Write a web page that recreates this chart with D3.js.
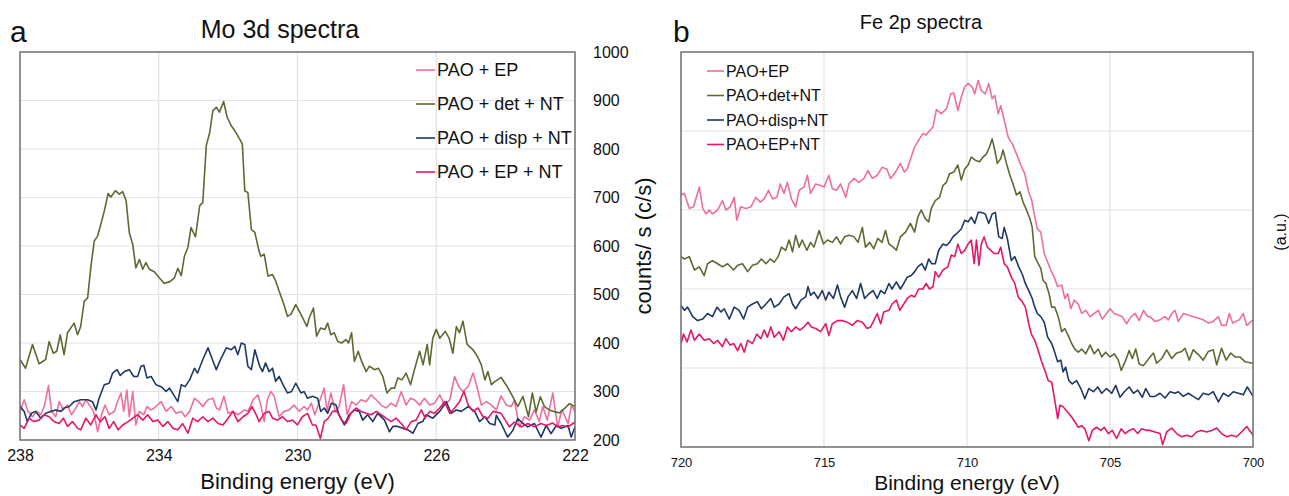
<!DOCTYPE html>
<html>
<head>
<meta charset="utf-8">
<script src="https://cdn.jsdelivr.net/npm/d3@7"></script>
<style>
  body { margin: 0; background: #fff; }
  svg { font-family: "Liberation Sans", Arial, sans-serif; }
</style>
</head>
<body>
<div id="chart"></div>
<script>
// ---- data ----
const moLabels = ["PAO + EP", "PAO + det + NT", "PAO + disp + NT", "PAO + EP + NT"];
const feLabels = ["PAO+EP", "PAO+det+NT", "PAO+disp+NT", "PAO+EP+NT"];
const seriesColors = ["#ef6f9c", "#5a6b32", "#1f3864", "#e4176a"];

const moEnergyTicks = [238, 234, 230, 226, 222];
const moCountTicks = [200, 300, 400, 500, 600, 700, 800, 900, 1000];
const feEnergyTicks = [720, 715, 710, 705, 700];
const feGridLevels = [1, 2, 3, 4];

// Mo 3d, [binding energy eV, counts/s]
const moPaoEp = [[238.00,259],[237.88,283],[237.77,259],[237.64,248],[237.52,259],[237.40,252],[237.29,272],[237.18,312],[237.09,259],[236.97,248],[236.87,279],[236.75,262],[236.63,272],[236.52,252],[236.39,266],[236.29,279],[236.20,269],[236.10,283],[236.00,272],[235.88,259],[235.76,217],[235.65,252],[235.55,272],[235.43,252],[235.28,259],[235.19,279],[235.09,297],[235.01,259],[234.92,303],[234.85,248],[234.75,300],[234.66,231],[234.56,259],[234.43,252],[234.34,269],[234.22,262],[234.13,266],[233.93,279],[233.79,259],[233.64,269],[233.50,255],[233.35,259],[233.24,248],[233.11,259],[232.97,286],[232.85,279],[232.73,269],[232.58,283],[232.44,286],[232.34,266],[232.25,262],[232.12,290],[232.00,255],[231.86,259],[231.72,252],[231.52,262],[231.43,259],[231.28,283],[231.14,293],
  [231.06,272],[230.96,238],[230.87,283],[230.77,300],[230.67,290],[230.53,248],[230.39,259],[230.24,262],[230.10,272],[229.95,259],[229.81,269],[229.71,262],[229.60,276],[229.50,252],[229.37,279],[229.23,307],[229.15,259],[229.04,297],[228.91,259],[228.80,269],[228.67,314],[228.57,252],[228.44,279],[228.31,272],[228.17,283],[228.02,279],[227.88,293],[227.73,283],[227.59,272],[227.45,266],[227.30,276],[227.16,269],[227.01,300],[226.87,272],[226.74,286],[226.63,283],[226.48,272],[226.34,286],[226.19,272],[226.05,276],[225.90,293],[225.76,272],[225.61,283],[225.47,331],[225.35,310],[225.23,300],[225.08,310],[224.94,338],[224.84,314],[224.70,272],[224.55,279],[224.41,272],
  [224.27,262],[224.13,291],[223.98,272],[223.84,269],[223.75,282],[223.60,227],[223.46,248],[223.31,241],[223.17,262],[223.03,238],[222.93,269],[222.80,241],[222.64,297],[222.50,227],[222.38,262],[222.20,234],[222.10,272],[222.00,258]];

const moPaoDetNt = [[238.00,366],[237.84,348],[237.64,397],[237.45,357],[237.26,366],[237.16,403],[237.04,379],[236.94,383],[236.84,417],[236.73,376],[236.63,421],[236.44,441],[236.34,417],[236.25,434],[236.15,486],[236.05,493],[235.96,555],[235.86,610],[235.76,621],[235.67,645],[235.57,672],[235.46,708],[235.38,701],[235.25,714],[235.14,707],[235.04,712],[234.94,693],[234.85,628],[234.75,603],[234.66,555],[234.56,572],[234.46,552],[234.37,566],[234.27,552],[234.13,547],[233.98,534],[233.84,523],[233.69,526],[233.55,534],[233.45,554],[233.35,539],[233.26,579],[233.16,597],[233.07,638],[232.94,619],[232.82,683],[232.73,690],[232.63,807],[232.53,834],[232.44,879],[232.34,886],[232.25,876],[232.13,898],[232.03,866],[231.91,848],[231.81,838],[231.67,821],[231.59,810],[231.52,714],[231.43,710],[231.33,634],[231.23,628],
  [231.11,590],[231.06,579],[230.96,583],[230.85,538],[230.72,541],[230.63,528],[230.53,507],[230.39,479],[230.29,455],[230.19,459],[230.05,479],[229.90,459],[229.73,434],[229.66,452],[229.54,472],[229.45,414],[229.33,431],[229.21,428],[229.13,441],[229.04,417],[228.94,421],[228.84,403],[228.73,400],[228.60,407],[228.53,400],[228.44,421],[228.36,362],[228.25,383],[228.15,362],[228.02,341],[227.93,352],[227.78,345],[227.67,348],[227.54,331],[227.42,297],[227.30,307],[227.20,307],[227.11,328],[226.99,324],[226.87,338],[226.74,314],[226.63,345],[226.48,383],[226.38,355],[226.26,397],[226.19,355],[226.10,410],[226.00,428],[225.90,410],[225.74,424],[225.63,410],[225.52,379],[225.42,434],[225.33,421],[225.23,445],[225.11,397],[224.94,386],[224.81,372],[224.70,355],[224.60,324],[224.51,341],[224.41,314],
  [224.32,320],[224.13,329],[223.98,313],[223.79,289],[223.65,269],[223.50,290],[223.34,248],[223.23,297],[223.12,258],[223.00,289],[222.88,269],[222.74,262],[222.59,258],[222.45,256],[222.30,265],[222.16,275],[222.00,269]];

const moPaoDispNt = [[238.00,269],[237.88,259],[237.79,238],[237.67,255],[237.55,259],[237.40,245],[237.26,255],[237.11,259],[236.97,262],[236.82,259],[236.73,266],[236.58,269],[236.44,279],[236.25,283],[236.05,283],[235.91,279],[235.81,262],[235.72,286],[235.57,314],[235.43,317],[235.33,338],[235.20,345],[235.11,333],[234.99,341],[234.85,345],[234.72,331],[234.61,331],[234.51,352],[234.43,354],[234.34,328],[234.22,331],[234.08,314],[233.93,310],[233.79,300],[233.69,307],[233.57,293],[233.45,279],[233.35,314],[233.24,310],[233.11,324],[232.97,348],[232.88,338],[232.73,366],[232.58,390],[232.47,369],[232.34,345],[232.20,369],[232.05,390],[231.91,386],[231.81,393],[231.72,376],[231.62,400],[231.52,397],[231.43,352],[231.33,345],[231.23,386],[231.09,352],
  [231.01,341],[230.92,359],[230.82,341],[230.72,348],[230.63,321],[230.53,331],[230.39,310],[230.29,297],[230.17,300],[230.05,317],[229.90,297],[229.81,300],[229.71,286],[229.57,290],[229.42,286],[229.33,259],[229.23,266],[229.13,255],[229.02,276],[228.89,272],[228.80,252],[228.65,231],[228.51,252],[228.36,262],[228.22,259],[228.12,241],[227.98,252],[227.83,238],[227.69,255],[227.49,241],[227.35,217],[227.25,228],[227.11,228],[226.96,224],[226.82,221],[226.67,214],[226.53,234],[226.39,238],[226.29,252],[226.10,245],[225.90,259],[225.71,279],[225.57,255],[225.42,262],[225.28,259],[225.08,269],[224.89,259],[224.75,238],[224.60,248],[224.46,234],[224.31,231],
  [224.27,251],[224.13,234],[223.94,206],[223.79,220],[223.65,244],[223.50,234],[223.36,227],[223.17,234],[222.98,206],[222.83,230],[222.69,213],[222.54,230],[222.40,224],[222.20,230],[222.11,206],[222.00,227]];

const moPaoEpNt = [[238.00,231],[237.88,224],[237.74,245],[237.60,238],[237.45,241],[237.31,252],[237.16,248],[237.02,238],[236.87,234],[236.75,245],[236.63,228],[236.49,238],[236.34,224],[236.25,221],[236.10,245],[235.96,231],[235.81,252],[235.69,238],[235.55,248],[235.43,224],[235.30,238],[235.17,221],[235.04,231],[234.88,238],[234.75,245],[234.61,252],[234.46,241],[234.32,252],[234.17,238],[234.03,241],[233.88,228],[233.74,238],[233.59,224],[233.45,221],[233.31,234],[233.16,214],[233.02,245],[232.88,238],[232.73,248],[232.58,238],[232.44,245],[232.29,234],[232.15,231],[232.00,245],[231.86,259],[231.72,238],[231.57,248],[231.43,255],[231.31,269],[231.19,252],
  [231.11,238],[230.96,255],[230.82,259],[230.72,245],[230.58,241],[230.43,248],[230.29,238],[230.14,241],[230.00,231],[229.86,248],[229.71,255],[229.57,231],[229.47,231],[229.34,203],[229.23,238],[229.11,245],[228.99,259],[228.86,259],[228.73,241],[228.60,234],[228.46,255],[228.31,266],[228.17,259],[228.02,255],[227.88,252],[227.73,259],[227.59,252],[227.45,245],[227.30,238],[227.16,245],[227.01,234],[226.87,221],[226.72,238],[226.58,241],[226.43,262],[226.32,245],[226.19,259],[226.05,255],[225.90,266],[225.76,279],[225.61,255],[225.47,266],[225.33,279],[225.20,300],[225.08,272],[224.94,259],[224.80,266],[224.65,248],[224.51,245],[224.36,259],
  [224.13,255],[223.89,227],[223.75,237],[223.55,227],[223.36,234],[223.17,227],[222.98,234],[222.83,230],[222.64,235],[222.50,227],[222.36,230],[222.20,227],[222.06,234],[222.00,237]];

// Fe 2p, [binding energy eV, intensity a.u.]
const fePaoEp = [[720.00,3.19],[719.88,3.21],[719.71,3.02],[719.56,3.04],[719.36,3.29],[719.24,3.02],[719.13,2.95],[719.01,3.00],[718.90,2.95],[718.72,3.00],[718.55,3.12],[718.43,3.00],[718.28,3.04],[718.14,3.16],[718.05,2.87],[717.91,3.04],[717.73,3.02],[717.56,3.04],[717.38,3.16],[717.23,3.10],[717.09,3.14],[716.94,3.25],[716.80,3.14],[716.65,3.16],[716.53,3.33],[716.40,3.21],[716.28,3.35],[716.14,3.14],[715.99,3.04],[715.87,3.25],[715.70,3.29],[715.58,3.44],[715.47,3.21],[715.29,3.33],[715.12,3.31],[715.00,3.29],[714.83,3.44],[714.71,3.27],[714.56,3.25],[714.42,3.33],[714.24,3.16],[714.13,3.33],[713.95,3.40],[713.78,3.35],[713.60,3.40],[713.47,3.50],[713.31,3.40],[713.14,3.44],[712.97,3.54],[712.81,3.52],[712.67,3.40],[712.50,3.48],[712.33,3.59],[712.19,3.48],[712.09,3.52],[711.95,3.67],
  [711.83,3.80],[711.66,3.90],[711.54,3.97],[711.43,3.95],[711.34,3.99],[711.19,4.05],[711.07,4.27],[710.90,4.22],[710.72,4.28],[710.57,4.47],[710.46,4.48],[710.32,4.26],[710.20,4.43],[710.08,4.56],[709.96,4.60],[709.82,4.56],[709.73,4.47],[709.61,4.64],[709.50,4.51],[709.36,4.47],[709.24,4.60],[709.12,4.41],[709.03,4.45],[708.91,4.22],[708.82,4.32],[708.70,4.14],[708.56,3.92],[708.42,3.84],[708.27,3.71],[708.12,3.57],[707.98,3.46],[707.86,3.25],[707.75,3.14],[707.65,2.95],[707.54,2.76],[707.42,2.72],[707.30,2.45],[707.18,2.34],[707.07,2.24],[706.95,2.15],[706.83,2.03],[706.69,2.05],[706.58,1.88],[706.48,1.94],[706.37,1.75],[706.25,1.86],[706.11,1.81],[705.99,1.69],[705.85,1.73],[705.70,1.65],[705.55,1.69],[705.41,1.73],[705.27,1.62],[705.12,1.69],[705.00,1.75],[704.85,1.69],[704.71,1.67],[704.57,1.65],[704.42,1.56],[704.26,1.65],[704.12,1.69],[703.98,1.60],[703.83,1.73],[703.68,1.65],
  [703.60,1.65],[703.43,1.59],[703.25,1.61],[703.08,1.65],[702.96,1.61],[702.84,1.69],[702.73,1.73],[702.61,1.59],[702.44,1.69],[702.26,1.67],[702.09,1.65],[701.91,1.63],[701.74,1.61],[701.56,1.57],[701.39,1.59],[701.21,1.65],[701.10,1.54],[700.94,1.54],[700.83,1.69],[700.71,1.57],[700.60,1.59],[700.48,1.61],[700.34,1.69],[700.22,1.54],[700.00,1.61]];

const fePaoDetNt = [[720.00,2.41],[719.88,2.38],[719.71,2.41],[719.53,2.24],[719.36,2.28],[719.19,2.17],[719.07,2.32],[718.90,2.36],[718.72,2.32],[718.55,2.28],[718.37,2.32],[718.16,2.24],[718.02,2.30],[717.85,2.32],[717.67,2.22],[717.50,2.30],[717.33,2.32],[717.19,2.38],[717.03,2.32],[716.88,2.38],[716.74,2.34],[716.60,2.41],[716.49,2.53],[716.34,2.49],[716.22,2.62],[716.10,2.47],[715.99,2.68],[715.87,2.53],[715.76,2.62],[715.60,2.49],[715.47,2.59],[715.35,2.53],[715.17,2.74],[715.02,2.57],[714.88,2.62],[714.71,2.59],[714.56,2.66],[714.42,2.57],[714.28,2.66],[714.13,2.68],[713.95,2.66],[713.81,2.59],[713.66,2.78],[713.55,2.53],[713.40,2.59],[713.26,2.51],[713.12,2.64],[712.97,2.59],[712.85,2.74],[712.73,2.57],[712.58,2.53],[712.47,2.49],[712.33,2.66],[712.15,2.72],[711.98,2.83],
  [711.83,2.72],[711.72,2.91],[711.60,3.00],[711.46,2.89],[711.34,2.85],[711.25,3.02],[711.11,3.12],[710.96,3.16],[710.84,3.31],[710.72,3.35],[710.61,3.46],[710.46,3.48],[710.32,3.57],[710.20,3.38],[710.08,3.52],[709.96,3.57],[709.85,3.67],[709.71,3.63],[709.56,3.61],[709.44,3.67],[709.32,3.71],[709.21,3.80],[709.12,3.90],[709.03,3.76],[708.94,3.59],[708.82,3.65],[708.74,3.76],[708.62,3.59],[708.50,3.44],[708.39,3.33],[708.27,3.19],[708.15,3.23],[708.04,3.10],[707.92,3.00],[707.80,2.89],[707.72,2.78],[707.63,2.41],[707.51,2.32],[707.42,2.26],[707.34,2.11],[707.24,2.07],[707.13,1.94],[707.04,1.77],[706.93,1.77],[706.81,1.65],[706.69,1.46],[706.58,1.50],[706.46,1.41],[706.34,1.31],[706.23,1.24],[706.11,1.20],[705.99,1.24],[705.85,1.18],[705.70,1.29],[705.55,1.18],[705.41,1.24],[705.29,1.14],[705.15,1.20],[705.00,1.14],[704.85,1.18],[704.71,1.10],[704.61,0.97],[704.47,1.08],[704.33,1.22],[704.22,1.12],[704.10,1.24],[703.98,1.05],[703.83,1.03],[703.68,1.10],
  [703.60,1.14],[703.48,1.19],[703.37,1.06],[703.19,1.12],[703.02,1.23],[702.84,1.12],[702.67,1.19],[702.49,1.21],[702.38,1.25],[702.23,1.10],[702.09,1.23],[701.91,1.17],[701.74,1.10],[701.56,1.21],[701.39,1.23],[701.27,1.04],[701.10,1.25],[700.94,1.10],[700.78,1.19],[700.63,1.14],[700.46,1.14],[700.28,1.08],[700.00,1.06]];

const fePaoDispNt = [[720.00,1.79],[719.88,1.73],[719.77,1.77],[719.59,1.65],[719.42,1.60],[719.24,1.62],[719.07,1.69],[718.90,1.65],[718.74,1.77],[718.60,1.71],[718.49,1.75],[718.31,1.62],[718.14,1.77],[717.97,1.73],[717.81,1.62],[717.67,1.77],[717.50,1.81],[717.33,1.84],[717.19,1.75],[717.03,1.81],[716.86,1.88],[716.74,1.77],[716.57,1.81],[716.40,1.90],[716.22,1.94],[716.10,1.81],[715.99,1.75],[715.81,1.86],[715.64,1.90],[715.56,2.03],[715.47,1.92],[715.35,1.96],[715.21,1.88],[715.06,1.98],[714.94,1.86],[714.83,1.96],[714.67,1.88],[714.53,2.05],[714.42,1.90],[714.28,1.77],[714.16,1.90],[714.01,1.98],[713.86,1.88],[713.72,2.07],[713.58,1.88],[713.43,1.94],[713.28,1.98],[713.14,1.88],[713.02,1.98],[712.88,1.94],[712.73,2.07],[712.62,2.00],[712.47,2.09],[712.33,2.00],[712.21,2.07],[712.09,2.15],[711.95,2.17],
  [711.83,2.22],[711.72,2.28],[711.58,2.32],[711.46,2.24],[711.34,2.38],[711.23,2.32],[711.11,2.32],[710.99,2.49],[710.84,2.57],[710.72,2.55],[710.61,2.59],[710.49,2.66],[710.37,2.70],[710.20,2.76],[710.08,2.87],[709.96,2.85],[709.85,2.91],[709.73,2.83],[709.61,2.97],[709.50,2.97],[709.36,2.95],[709.24,2.83],[709.12,2.95],[709.01,2.97],[708.89,2.66],[708.77,2.64],[708.70,2.78],[708.59,2.64],[708.45,2.36],[708.33,2.41],[708.19,2.28],[708.07,2.19],[707.96,2.07],[707.84,1.98],[707.72,1.88],[707.63,1.77],[707.54,1.69],[707.42,1.65],[707.30,1.58],[707.18,1.39],[707.04,1.31],[706.95,1.22],[706.83,1.08],[706.72,1.10],[706.64,0.95],[706.55,1.01],[706.44,0.84],[706.32,0.80],[706.17,0.84],[706.02,0.74],[705.88,0.61],[705.74,0.74],[705.58,0.70],[705.43,0.76],[705.29,0.68],[705.12,0.74],[704.94,0.68],[704.80,0.78],[704.65,0.63],[704.50,0.70],[704.33,0.76],[704.18,0.68],[704.03,0.72],[703.87,0.63],[703.75,0.74],
  [703.60,0.64],[703.43,0.64],[703.25,0.68],[703.08,0.62],[702.90,0.70],[702.73,0.68],[702.61,0.70],[702.44,0.64],[702.26,0.68],[702.09,0.64],[701.91,0.60],[701.74,0.68],[701.56,0.66],[701.39,0.70],[701.21,0.57],[701.04,0.68],[700.86,0.64],[700.69,0.70],[700.51,0.68],[700.34,0.66],[700.20,0.76],[700.00,0.64]];

const fePaoEpNt = [[720.00,1.31],[719.91,1.43],[719.79,1.33],[719.65,1.48],[719.53,1.35],[719.36,1.43],[719.19,1.35],[719.01,1.37],[718.86,1.31],[718.72,1.35],[718.55,1.27],[718.43,1.37],[718.28,1.29],[718.16,1.31],[718.02,1.22],[717.91,1.31],[717.79,1.20],[717.67,1.35],[717.50,1.31],[717.35,1.43],[717.21,1.37],[717.09,1.48],[716.98,1.39],[716.86,1.52],[716.74,1.39],[716.57,1.46],[716.42,1.35],[716.28,1.52],[716.14,1.46],[715.99,1.52],[715.84,1.48],[715.70,1.52],[715.56,1.58],[715.44,1.52],[715.29,1.50],[715.12,1.46],[714.94,1.56],[714.83,1.41],[714.71,1.56],[714.53,1.60],[714.36,1.60],[714.19,1.58],[714.01,1.54],[713.84,1.60],[713.66,1.58],[713.49,1.50],[713.37,1.52],[713.26,1.60],[713.14,1.69],[713.02,1.56],[712.91,1.71],[712.73,1.73],[712.62,1.81],[712.47,1.86],[712.35,1.73],[712.21,1.81],[712.09,1.88],[711.95,1.92],
  [711.83,1.90],[711.69,2.00],[711.54,2.00],[711.43,2.07],[711.31,2.00],[711.19,2.03],[711.11,2.22],[710.99,2.15],[710.84,2.24],[710.67,2.28],[710.55,2.43],[710.43,2.41],[710.32,2.57],[710.20,2.45],[710.08,2.49],[709.96,2.57],[709.85,2.62],[709.75,2.32],[709.67,2.62],[709.58,2.30],[709.50,2.57],[709.40,2.66],[709.29,2.53],[709.17,2.49],[709.05,2.45],[708.91,2.45],[708.82,2.53],[708.70,2.32],[708.59,2.28],[708.45,2.15],[708.33,2.07],[708.21,1.90],[708.07,1.84],[707.96,1.77],[707.84,1.56],[707.75,1.43],[707.63,1.35],[707.51,1.22],[707.39,1.08],[707.28,0.97],[707.16,0.84],[707.04,0.82],[706.93,0.59],[706.83,0.36],[706.75,0.53],[706.64,0.51],[706.48,0.44],[706.34,0.38],[706.23,0.32],[706.11,0.25],[705.99,0.27],[705.88,0.23],[705.74,0.08],[705.62,0.21],[705.47,0.25],[705.32,0.21],[705.20,0.25],[705.06,0.17],[704.92,0.21],[704.77,0.11],[704.61,0.23],[704.47,0.17],[704.33,0.21],[704.18,0.23],[704.03,0.17],[703.89,0.23],[703.71,0.21],
  [703.60,0.21],[703.43,0.19],[703.25,0.17],[703.16,0.03],[703.02,0.19],[702.84,0.24],[702.67,0.17],[702.49,0.13],[702.32,0.15],[702.14,0.13],[701.97,0.19],[701.80,0.21],[701.62,0.19],[701.44,0.21],[701.27,0.24],[701.10,0.17],[700.92,0.13],[700.75,0.15],[700.57,0.13],[700.40,0.19],[700.22,0.26],[700.00,0.15]];

// ---- drawing ----
const W = 1289, H = 496;
const svg = d3.select("#chart").append("svg")
    .attr("width", W)
    .attr("height", H);

function drawPanel(p) {
    var x = d3.scaleLinear().domain(p.xDomain).range([p.left, p.right]);
    var y = d3.scaleLinear().domain(p.yDomain).range([p.bottom, p.top]);
    var g = svg.append("g");

    g.append("clipPath").attr("id", p.id + "-clip")
        .append("rect")
        .attr("x", p.left).attr("y", p.top)
        .attr("width", p.right - p.left).attr("height", p.bottom - p.top);

    // grid
    g.selectAll(".vgrid").data(p.xTicks.slice(1, -1)).enter().append("line")
        .attr("x1", d => x(d)).attr("x2", d => x(d))
        .attr("y1", p.top).attr("y2", p.bottom)
        .attr("stroke", "#e2e2e2").attr("stroke-width", 1.2);
    g.selectAll(".hgrid").data(p.yGrid).enter().append("line")
        .attr("x1", p.left).attr("x2", p.right)
        .attr("y1", d => y(d)).attr("y2", d => y(d))
        .attr("stroke", "#e2e2e2").attr("stroke-width", 1.2);

    // spectra
    var line = d3.line().x(d => x(d[0])).y(d => y(d[1]));
    g.append("g").attr("clip-path", "url(#" + p.id + "-clip)")
        .selectAll("path").data(p.series).enter().append("path")
        .attr("d", d => line(d))
        .attr("fill", "none")
        .attr("stroke", (d, i) => seriesColors[i])
        .attr("stroke-width", 1.6)
        .attr("stroke-linejoin", "round");

    // frame
    g.append("rect")
        .attr("x", p.left).attr("y", p.top)
        .attr("width", p.right - p.left).attr("height", p.bottom - p.top)
        .attr("fill", "none").attr("stroke", "#6e6e6e").attr("stroke-width", 1.5);

    // x axis labels
    var xa = g.append("g")
        .attr("transform", "translate(0," + p.bottom + ")")
        .call(d3.axisBottom(x).tickValues(p.xTicks).tickSize(0).tickPadding(p.tickPad).tickFormat(d3.format("d")));
    xa.select(".domain").remove();
    xa.selectAll("text").attr("font-size", p.tickFont).attr("fill", "#111")
        .attr("font-family", "'Liberation Sans', Arial, sans-serif");

    g.append("text")
        .attr("x", (p.left + p.right) / 2).attr("y", p.xTitleY)
        .attr("text-anchor", "middle").attr("font-size", p.xTitleFont).attr("fill", "#111")
        .text("Binding energy (eV)");

    // legend
    var lg = g.selectAll(".legend").data(p.labels).enter().append("g")
        .attr("transform", (d, i) => "translate(" + p.legendX + "," + (p.legendY + i * p.legendStep) + ")");
    lg.append("line").attr("x1", 0).attr("x2", p.legendLine).attr("y1", 0).attr("y2", 0)
        .attr("stroke", (d, i) => seriesColors[i]).attr("stroke-width", 1.6);
    lg.append("text").attr("x", p.legendLine + 2).attr("y", 0).attr("dy", "0.35em")
        .attr("font-size", p.legendFont).attr("fill", "#111").text(d => d);

    return { x: x, y: y, g: g };
}

// panel a
var pa = drawPanel({
    id: "mo", left: 20, right: 575, top: 52, bottom: 440,
    xDomain: [238, 222], yDomain: [200, 1000],
    xTicks: moEnergyTicks, yGrid: moCountTicks.slice(1, -1),
    series: [moPaoEp, moPaoDetNt, moPaoDispNt, moPaoEpNt],
    labels: moLabels, legendX: 416, legendY: 70, legendStep: 34, legendLine: 19, legendFont: 18,
    tickFont: 16, tickPad: 10, xTitleY: 489, xTitleFont: 22
});

var ya = pa.g.append("g")
    .attr("transform", "translate(575,0)")
    .call(d3.axisRight(pa.y).tickValues(moCountTicks).tickSize(0).tickPadding(18).tickFormat(d3.format("d")));
ya.select(".domain").remove();
ya.selectAll("text").attr("font-size", 16).attr("fill", "#111")
    .attr("font-family", "'Liberation Sans', Arial, sans-serif");

svg.append("text")
    .attr("transform", "translate(643,246) rotate(-90)")
    .attr("text-anchor", "middle").attr("dy", "0.35em")
    .attr("font-size", 22).attr("fill", "#111")
    .text("counts/ s (c/s)");

svg.append("text").attr("x", 10).attr("y", 42).attr("font-size", 30).attr("fill", "#111").text("a");
svg.append("text").attr("x", 280).attr("y", 38).attr("text-anchor", "middle")
    .attr("font-size", 25).attr("fill", "#111").text("Mo 3d spectra");

// panel b
drawPanel({
    id: "fe", left: 681, right: 1253, top: 52, bottom: 447,
    xDomain: [720, 700], yDomain: [0, 5],
    xTicks: feEnergyTicks, yGrid: feGridLevels,
    series: [fePaoEp, fePaoDetNt, fePaoDispNt, fePaoEpNt],
    labels: feLabels, legendX: 707, legendY: 71, legendStep: 24.5, legendLine: 17, legendFont: 16,
    tickFont: 13, tickPad: 11, xTitleY: 490, xTitleFont: 21
});

svg.append("text")
    .attr("transform", "translate(1280,232) rotate(-90)")
    .attr("text-anchor", "middle").attr("dy", "0.35em")
    .attr("font-size", 16).attr("fill", "#111")
    .text("(a.u.)");

svg.append("text").attr("x", 673).attr("y", 42).attr("font-size", 30).attr("fill", "#111").text("b");
svg.append("text").attr("x", 921).attr("y", 29).attr("text-anchor", "middle")
    .attr("font-size", 20).attr("fill", "#111").text("Fe 2p spectra");
</script>
</body>
</html>
